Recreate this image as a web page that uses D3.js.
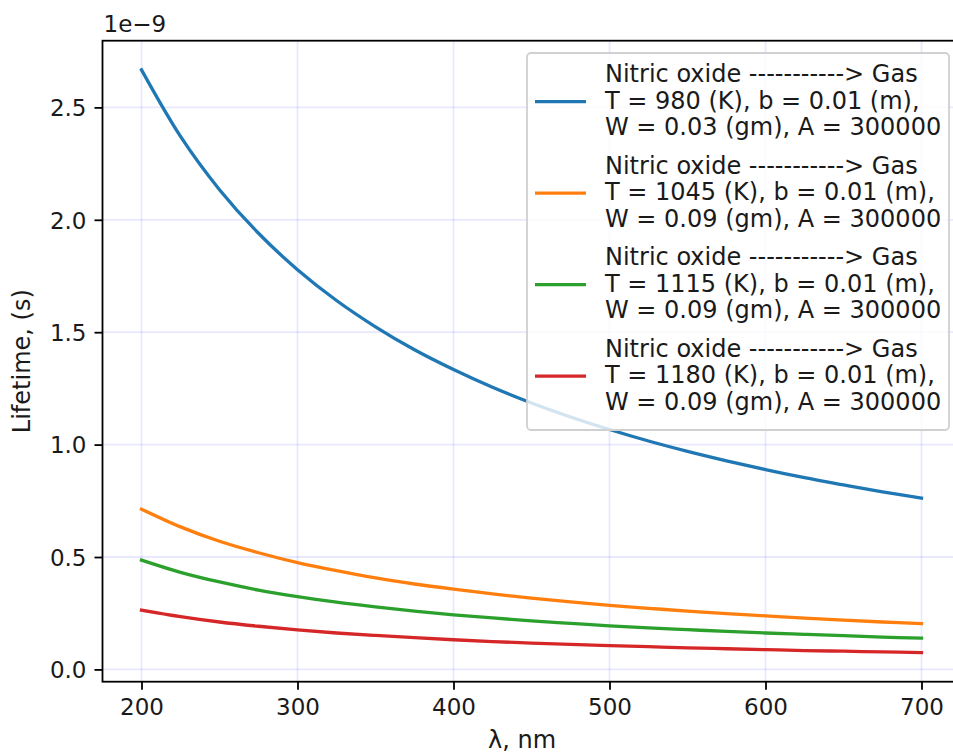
<!DOCTYPE html>
<html>
<head>
<meta charset="utf-8">
<script src="https://cdn.jsdelivr.net/npm/d3@7"></script>
<style>
  html, body { margin: 0; padding: 0; background: #fff; }
  svg { display: block; font-family: "DejaVu Sans", sans-serif; }
</style>
</head>
<body>
<svg id="chart" width="953" height="753"></svg>
<script>
// Wavelength samples (nm)
const wavelengths = [200, 225, 250, 275, 300, 325, 350, 375, 400, 425, 450,
                     475, 500, 525, 550, 575, 600, 625, 650, 675, 700];

// Radiative lifetime (units of 1e-9 s) for each gas temperature case
const lifetime980  = [2.667, 2.371, 2.134, 1.940, 1.778, 1.641, 1.524, 1.422, 1.334, 1.255, 1.185,
                      1.123, 1.067, 1.016, 0.970, 0.928, 0.889, 0.853, 0.821, 0.790, 0.762];
const lifetime1045 = [0.713, 0.634, 0.570, 0.519, 0.475, 0.439, 0.407, 0.380, 0.357, 0.336, 0.317,
                      0.300, 0.285, 0.272, 0.259, 0.248, 0.238, 0.228, 0.219, 0.211, 0.204];
const lifetime1115 = [0.486, 0.432, 0.389, 0.353, 0.324, 0.299, 0.278, 0.259, 0.243, 0.229, 0.216,
                      0.205, 0.194, 0.185, 0.177, 0.169, 0.162, 0.156, 0.150, 0.144, 0.139];
const lifetime1180 = [0.264, 0.235, 0.211, 0.192, 0.176, 0.162, 0.151, 0.141, 0.132, 0.124, 0.117,
                      0.111, 0.106, 0.101, 0.096, 0.092, 0.088, 0.084, 0.081, 0.078, 0.075];

const seriesValues = [lifetime980, lifetime1045, lifetime1115, lifetime1180];
const seriesColors = ["#1f77b4", "#ff7f0e", "#2ca02c", "#d62728"];
const seriesLabels = [
  ["Nitric oxide -----------> Gas", "T = 980 (K), b = 0.01 (m),",  "W = 0.03 (gm), A = 300000"],
  ["Nitric oxide -----------> Gas", "T = 1045 (K), b = 0.01 (m),", "W = 0.09 (gm), A = 300000"],
  ["Nitric oxide -----------> Gas", "T = 1115 (K), b = 0.01 (m),", "W = 0.09 (gm), A = 300000"],
  ["Nitric oxide -----------> Gas", "T = 1180 (K), b = 0.01 (m),", "W = 0.09 (gm), A = 300000"]
];

const xTicks = [200, 300, 400, 500, 600, 700];
const yTicks = [0.0, 0.5, 1.0, 1.5, 2.0, 2.5];
const xLabel = "λ, nm";
const yLabel = "Lifetime, (s)";
const offsetLabel = "1e\u22129";

// Layout
const plot = { left: 102.5, right: 960.5, top: 40.7, bottom: 681.7 };
const tickFont = 23, labelFont = 24, legendFont = 24;
const textColor = "#1a1a1a";

const svg = d3.select("#chart");

// Data extents with 5% padding on each side
const xMin = d3.min(wavelengths), xMax = d3.max(wavelengths);
const allY = seriesValues.flat();
const yMin = d3.min(allY), yMax = d3.max(allY);
const xPad = (xMax - xMin) * 0.05, yPad = (yMax - yMin) * 0.05;

const x = d3.scaleLinear().domain([xMin - xPad, xMax + xPad]).range([plot.left, plot.right]);
const y = d3.scaleLinear().domain([yMin - yPad, yMax + yPad]).range([plot.bottom, plot.top]);

// Grid
const grid = svg.append("g");
grid.selectAll("line.gx").data(xTicks).join("line")
  .attr("x1", d => x(d)).attr("x2", d => x(d))
  .attr("y1", plot.top).attr("y2", plot.bottom)
  .attr("stroke", "rgba(0,0,255,0.09)").attr("stroke-width", 1.8);
grid.selectAll("line.gy").data(yTicks).join("line")
  .attr("x1", plot.left).attr("x2", plot.right)
  .attr("y1", d => y(d)).attr("y2", d => y(d))
  .attr("stroke", "rgba(0,0,255,0.09)").attr("stroke-width", 1.8);

// Curves
const line = d3.line()
  .x((d, i) => x(wavelengths[i]))
  .y(d => y(d))
  .curve(d3.curveCatmullRom);

svg.append("g").selectAll("path").data(seriesValues).join("path")
  .attr("d", d => line(d))
  .attr("fill", "none")
  .attr("stroke", (d, i) => seriesColors[i])
  .attr("stroke-width", 3.3)
  .attr("stroke-linecap", "square")
  .attr("stroke-linejoin", "round");

// Axes
const xAxis = d3.axisBottom(x).tickValues(xTicks).tickFormat(d3.format("d"))
  .tickSize(8).tickPadding(8);
const yAxis = d3.axisLeft(y).tickValues(yTicks).tickFormat(d3.format(".1f"))
  .tickSize(8).tickPadding(8);

const gx = svg.append("g").attr("transform", `translate(0,${plot.bottom})`).call(xAxis);
const gy = svg.append("g").attr("transform", `translate(${plot.left},0)`).call(yAxis);

[gx, gy].forEach(g => {
  g.select(".domain").remove();
  g.selectAll(".tick line").attr("stroke", "#000").attr("stroke-width", 1.8);
  g.selectAll(".tick text").attr("fill", textColor)
    .style("font-size", tickFont + "px")
    .style("font-family", "DejaVu Sans, sans-serif");
});
gy.selectAll(".tick text").attr("dy", "0.36em");
gx.selectAll(".tick text").attr("dy", "0.76em");

// Spines (left, top, bottom; right spine lies past the canvas edge)
svg.append("rect")
  .attr("x", plot.left).attr("y", plot.top)
  .attr("width", plot.right - plot.left).attr("height", plot.bottom - plot.top)
  .attr("fill", "none").attr("stroke", "#000").attr("stroke-width", 1.8);

// Axis titles
svg.append("text")
  .attr("x", 522).attr("y", 748)
  .attr("text-anchor", "middle").attr("fill", textColor)
  .style("font-size", labelFont + "px").text(xLabel);

svg.append("text")
  .attr("transform", `translate(30,${(plot.top + plot.bottom) / 2}) rotate(-90)`)
  .attr("text-anchor", "middle").attr("fill", textColor)
  .style("font-size", labelFont + "px").text(yLabel);

// Scale offset text
svg.append("text")
  .attr("x", plot.left + 1).attr("y", 32)
  .attr("fill", textColor)
  .style("font-size", tickFont + "px").text(offsetLabel);

// Legend
const legend = { x: 527, y: 53, w: 422, h: 377 };
const lg = svg.append("g");
lg.append("rect")
  .attr("x", legend.x).attr("y", legend.y)
  .attr("width", legend.w).attr("height", legend.h)
  .attr("rx", 4).attr("ry", 4)
  .attr("fill", "rgba(255,255,255,0.8)")
  .attr("stroke", "#d0d0d0").attr("stroke-width", 1.8);

const entryGap = 91.5, lineGap = 26.7, firstBaseline = 82;
seriesLabels.forEach((lines, i) => {
  const base = firstBaseline + i * entryGap;
  lg.append("line")
    .attr("x1", 535).attr("x2", 586)
    .attr("y1", base + lineGap - 7).attr("y2", base + lineGap - 7)
    .attr("stroke", seriesColors[i]).attr("stroke-width", 3.3);
  lines.forEach((t, j) => {
    lg.append("text")
      .attr("x", 605).attr("y", base + j * lineGap)
      .attr("fill", textColor)
      .style("font-size", legendFont + "px").text(t);
  });
});
</script>
</body>
</html>
